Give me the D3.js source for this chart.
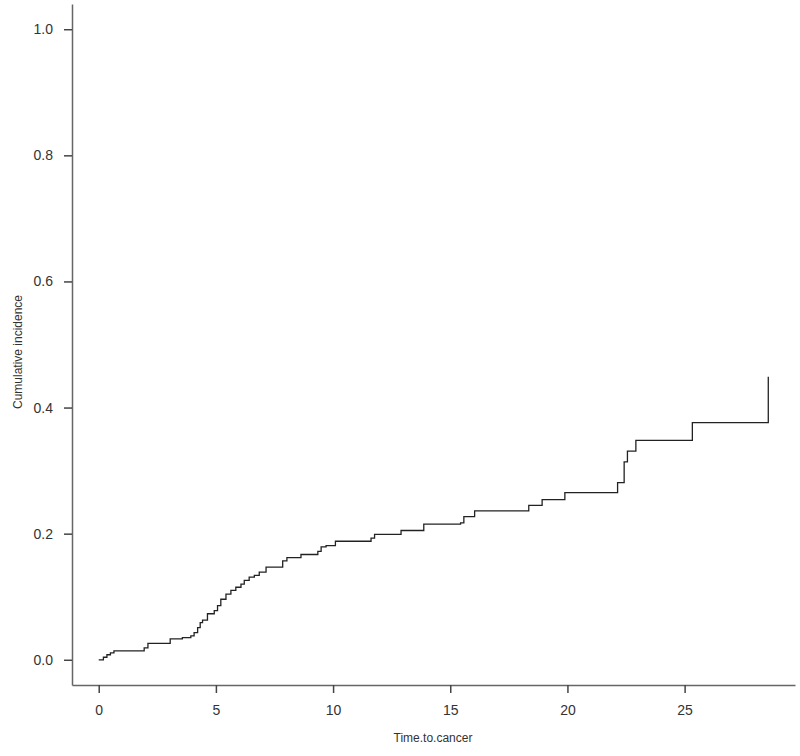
<!DOCTYPE html>
<html>
<head>
<meta charset="utf-8">
<script src="https://cdn.jsdelivr.net/npm/d3@7"></script>
<style>
    body { margin: 0; background: #fff; }
    text { font-family: "Liberation Sans", Arial, sans-serif; }
</style>
</head>
<body>
<div id="chart"></div>
<script>
// Step times and cumulative incidence after each step
const times = [0, 0.2, 0.35, 0.5, 0.65, 1.94, 2.1, 3.05, 3.57, 3.93, 4.07, 4.22, 4.33, 4.43, 4.64,
    4.93, 5.07, 5.21, 5.43, 5.64, 5.85, 6.07, 6.21, 6.42, 6.64, 6.85, 7.14, 7.85, 8.03, 8.63,
    9.35, 9.49, 9.70, 10.1, 11.62, 11.77, 12.9, 13.87, 15.44, 15.58, 16.04, 18.35, 18.92, 19.89,
    22.14, 22.42, 22.56, 22.92, 25.33, 28.57];
const incidence = [0, 0.004, 0.008, 0.011, 0.014, 0.019, 0.026, 0.033, 0.035, 0.038, 0.043, 0.051, 0.059, 0.063, 0.073,
    0.078, 0.086, 0.096, 0.104, 0.110, 0.115, 0.120, 0.126, 0.131, 0.134, 0.139, 0.147, 0.157, 0.162, 0.167,
    0.172, 0.179, 0.181, 0.188, 0.193, 0.199, 0.205, 0.215, 0.217, 0.227, 0.236, 0.245, 0.254, 0.265,
    0.281, 0.314, 0.331, 0.348, 0.376, 0.449];
const xTicks = [0, 5, 10, 15, 20, 25];
const yTicks = [0, 0.2, 0.4, 0.6, 0.8, 1.0];

const width = 800;
const height = 756;

const svg = d3.select("#chart")
    .append("svg")
    .attr("width", width)
    .attr("height", height);

// R style: axis range padded 4% beyond the data
const x = d3.scaleLinear().domain([-1.14, 29.71]).range([72, 795]);
const y = d3.scaleLinear().domain([-0.04, 1.04]).range([685, 4]);

const xAxis = svg.append("g")
    .attr("transform", "translate(0,685)")
    .call(d3.axisBottom(x).tickValues(xTicks).tickSizeInner(8).tickSizeOuter(0).tickPadding(12).tickFormat(d3.format("d")));

const yAxis = svg.append("g")
    .attr("transform", "translate(72,0)")
    .call(d3.axisLeft(y).tickValues(yTicks).tickSizeInner(8).tickSizeOuter(0).tickPadding(11).tickFormat(d3.format(".1f")));

[xAxis, yAxis].forEach(g => {
    g.select(".domain").attr("stroke", "#666").attr("stroke-width", 1.5);
    g.selectAll(".tick line").attr("stroke", "#444").attr("stroke-width", 1.5);
    g.selectAll(".tick text")
        .style("font-size", "14px")
        .style("font-family", "'Liberation Sans', Arial, sans-serif")
        .attr("fill", "#333");
});

// Step curve
const data = times.map((t, i) => ({ t: t, v: incidence[i] }));
const line = d3.line()
    .x(d => x(d.t))
    .y(d => y(d.v))
    .curve(d3.curveStepAfter);

svg.append("path")
    .datum(data)
    .attr("d", line)
    .attr("fill", "none")
    .attr("stroke", "#222")
    .attr("stroke-width", 1.3);

// Axis titles
svg.append("text")
    .attr("x", 433)
    .attr("y", 742)
    .attr("text-anchor", "middle")
    .style("font-size", "12px")
    .attr("fill", "#333")
    .text("Time.to.cancer");

svg.append("text")
    .attr("transform", "translate(22,352) rotate(-90)")
    .attr("text-anchor", "middle")
    .style("font-size", "12px")
    .attr("fill", "#333")
    .text("Cumulative incidence");
</script>
</body>
</html>
